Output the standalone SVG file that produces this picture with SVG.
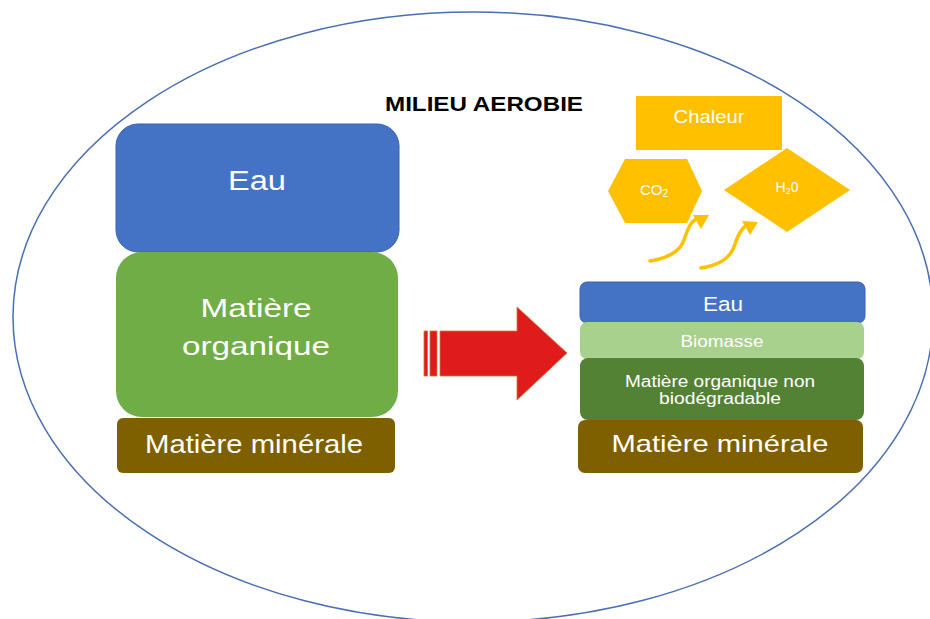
<svg xmlns="http://www.w3.org/2000/svg" width="930" height="619" viewBox="0 0 930 619">
<style>
.t{font-family:"Liberation Sans",Arial,sans-serif;fill:#fff;text-anchor:middle}
.y{fill:#FFC000}
.ya{fill:none;stroke:#FFC000;stroke-width:3.5;stroke-linecap:round}
</style>
<rect width="930" height="619" fill="#fff"/>
<g id="milieu">
<ellipse cx="473" cy="317" rx="460" ry="305" fill="none" stroke="#4A6FB5" stroke-width="1.5"/>
<text x="484" y="111" font-family="'Liberation Sans',Arial,sans-serif" font-weight="bold" font-size="21" text-anchor="middle" textLength="198" lengthAdjust="spacingAndGlyphs">MILIEU AEROBIE</text>
</g>
<g id="eau-left">
<rect x="116" y="124" width="283" height="128" rx="22" fill="#4472C4" stroke="#3A62AB" stroke-width="1"/>
<text class="t" x="257" y="190" font-size="27" textLength="58" lengthAdjust="spacingAndGlyphs">Eau</text>
</g>
<g id="mo-left">
<rect x="116" y="252" width="282" height="165" rx="26" fill="#70AD47"/>
<text class="t" x="256" y="317" font-size="26" textLength="111" lengthAdjust="spacingAndGlyphs">Matière</text>
<text class="t" x="256" y="355" font-size="26" textLength="148" lengthAdjust="spacingAndGlyphs">organique</text>
</g>
<g id="mm-left">
<rect x="117" y="418" width="278" height="55" rx="6" fill="#7F6000"/>
<text class="t" x="254" y="453" font-size="25" textLength="218" lengthAdjust="spacingAndGlyphs">Matière minérale</text>
</g>
<g id="fleche">
<rect x="424" y="331" width="3.5" height="45" fill="#E01B1B" stroke="#C8783A" stroke-width="0.8"/>
<rect x="430" y="331" width="7" height="45" fill="#E01B1B" stroke="#C8783A" stroke-width="0.8"/>
<polygon points="440,331 517,331 517,307 567,353 517,400 517,376 440,376" fill="#E01B1B" stroke="#C8783A" stroke-width="0.8"/>
</g>
<g id="eau-right">
<rect x="580" y="282" width="285" height="41" rx="7" fill="#4472C4" stroke="#3A62AB" stroke-width="1"/>
<text class="t" x="723" y="311" font-size="20" textLength="40" lengthAdjust="spacingAndGlyphs">Eau</text>
</g>
<g id="biomasse">
<rect x="580" y="322" width="284" height="37" rx="7" fill="#A9D18E"/>
<text class="t" x="722" y="347" font-size="16" textLength="83" lengthAdjust="spacingAndGlyphs">Biomasse</text>
</g>
<g id="mo-non-bio">
<rect x="580" y="358" width="284" height="62" rx="8" fill="#548235"/>
<text class="t" x="720" y="387" font-size="16" textLength="190" lengthAdjust="spacingAndGlyphs">Matière organique non</text>
<text class="t" x="720" y="404" font-size="16" textLength="122" lengthAdjust="spacingAndGlyphs">biodégradable</text>
</g>
<g id="mm-right">
<rect x="578" y="420" width="285" height="53" rx="7" fill="#7F6000"/>
<text class="t" x="720" y="452" font-size="24" textLength="217" lengthAdjust="spacingAndGlyphs">Matière minérale</text>
</g>
<g id="chaleur">
<rect class="y" x="636" y="96" width="146" height="54"/>
<text class="t" x="709" y="123" font-size="18" textLength="71" lengthAdjust="spacingAndGlyphs">Chaleur</text>
</g>
<g id="co2">
<polygon class="y" points="608,191 625,159 687,159 702,191 687,223 625,223"/>
<text class="t" x="654" y="195" font-size="15">CO<tspan font-size="10" dy="2">2</tspan></text>
</g>
<g id="h2o">
<polygon class="y" points="724,190 787,148 850,190 787,232"/>
<text class="t" x="787" y="192" font-size="14">H<tspan font-size="9" dy="2">2</tspan><tspan dy="-2">0</tspan></text>
</g>
<g id="connectors">
<path class="ya" d="M650,261 C668,258 680,252 684,240 C688,228 691,221 697,219"/>
<polygon class="y" points="693,215 709,215 701,229"/>
<path class="ya" d="M701,268 C720,265 731,258 735,244 C739,232 743,226 749,224"/>
<polygon class="y" points="742,221 758,222 750,235"/>
</g>
</svg>
